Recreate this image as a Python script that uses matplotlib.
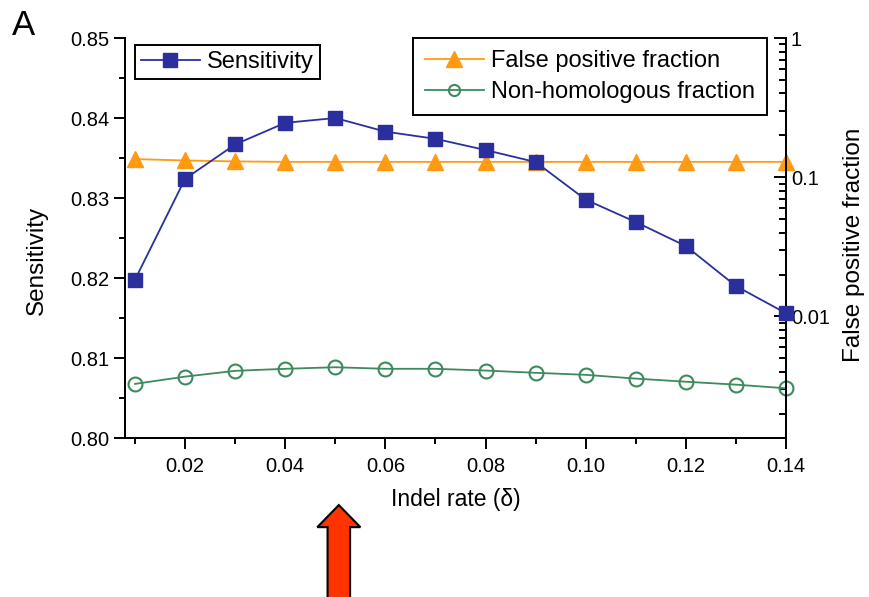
import matplotlib
matplotlib.use("Agg")
import matplotlib.pyplot as plt
from matplotlib.patches import FancyArrow
from matplotlib.ticker import FixedLocator, FuncFormatter, LogLocator, MultipleLocator
import matplotlib.transforms as mtransforms

plt.rcParams["font.family"] = ["Liberation Sans", "DejaVu Sans"]

# indel rate on the x axis
indel_rate = [0.01, 0.02, 0.03, 0.04, 0.05, 0.06, 0.07,
              0.08, 0.09, 0.10, 0.11, 0.12, 0.13, 0.14]

# left axis
sensitivity = [0.8198, 0.8324, 0.8367, 0.8394, 0.8400, 0.8383, 0.8374,
               0.8360, 0.8345, 0.8298, 0.8270, 0.8240, 0.8190, 0.8156]

# right axis (log)
false_positive = [0.135, 0.132, 0.130, 0.129, 0.129, 0.129, 0.129,
                  0.129, 0.129, 0.129, 0.129, 0.129, 0.129, 0.129]
non_homologous = [0.00328, 0.00370, 0.00407, 0.00421, 0.00432, 0.00421, 0.00421,
                  0.00409, 0.00394, 0.00381, 0.00358, 0.00340, 0.00324, 0.00305]

blue = "#2b2f9e"
orange = "#ff9a12"
green = "#3d8a5c"

fig = plt.figure(figsize=(8.7, 5.97), dpi=100)
ax = fig.add_axes([0.1437, 0.2663, 0.7597, 0.67])
ax2 = ax.twinx()

ax.plot(indel_rate, sensitivity, color=blue, marker="s", ms=10, lw=1.3,
        label="Sensitivity", zorder=3, clip_on=False)
ax2.plot(indel_rate, false_positive, color=orange, marker="^", ms=11, lw=1.3,
         label="False positive fraction", clip_on=False)
ax2.plot(indel_rate, non_homologous, color=green, marker="o", ms=10, lw=1.3,
         mfc="none", mew=1.5, label="Non-homologous fraction", clip_on=False)
ax.set_zorder(ax2.get_zorder() + 1)
ax.patch.set_visible(False)

ax.set_xlim(0.008, 0.14)
ax.set_ylim(0.80, 0.85)
ax2.set_yscale("log")
ax2.set_ylim(0.00134, 1)

for a in (ax, ax2):
    a.spines["top"].set_visible(False)
    for s in a.spines.values():
        s.set_linewidth(1.4)

ax.xaxis.set_major_locator(MultipleLocator(0.02))
ax.xaxis.set_minor_locator(MultipleLocator(0.01))
ax.xaxis.set_major_formatter(FuncFormatter(lambda v, p: f"{v:.2f}"))
ax.yaxis.set_major_locator(MultipleLocator(0.01))
ax.yaxis.set_minor_locator(MultipleLocator(0.005))
ax.yaxis.set_major_formatter(FuncFormatter(lambda v, p: f"{v:.2f}"))
ax.tick_params(which="both", direction="out", width=1.4, labelsize=14.5, right=False)
ax.tick_params(which="major", length=8)
ax.tick_params(which="minor", length=4)
ax.tick_params(axis="x", pad=6)

ax2.yaxis.set_major_locator(FixedLocator([0.01, 0.1, 1]))
ax2.yaxis.set_minor_locator(LogLocator(base=10, subs=range(2, 10)))
ax2.yaxis.set_major_formatter(FuncFormatter(lambda v, p: f"{v:g}"))
ax2.tick_params(which="both", direction="in", width=1.4, labelsize=14.5)
ax2.tick_params(which="major", length=9)
ax2.tick_params(which="minor", length=5)

ax.set_xlabel("Indel rate (δ)", fontsize=16.5)
ax.xaxis.set_label_coords(0.5, -0.125)
ax.set_ylabel("Sensitivity", fontsize=17.5)
ax.yaxis.set_label_coords(-0.116, 0.445)
ax2.set_ylabel("False positive fraction", fontsize=17.5)
ax2.yaxis.set_label_coords(1.086, 0.4825)

leg_kw = dict(borderaxespad=0, fontsize=17, numpoints=1, handlelength=2.5,
              handletextpad=0.3, fancybox=False, edgecolor="black", framealpha=1)
leg1 = ax.legend(loc="upper left", bbox_to_anchor=(0.015, 0.9825),
                 borderpad=0.25, **leg_kw)
leg1.get_frame().set_linewidth(1.4)
leg2 = ax2.legend(loc="upper right", bbox_to_anchor=(0.971, 1.0),
                  borderpad=0.5, labelspacing=0.38, **leg_kw)
leg2.get_frame().set_linewidth(1.4)
leg2.legend_handles[1].set_markersize(8)

fig.text(0.014, 0.985, "A", fontsize=25, va="top", ha="left")

# pointer under the chosen indel rate
trans = mtransforms.blended_transform_factory(ax.transData, fig.transFigure)
arrow = FancyArrow(0.0507, -0.02, 0, 0.174, width=0.0045, head_width=0.0086,
                   head_length=0.037, length_includes_head=True, transform=trans,
                   facecolor="#ff3300", edgecolor="black", lw=1.5, clip_on=False)
fig.add_artist(arrow)

fig.savefig("out.png", dpi=100)
